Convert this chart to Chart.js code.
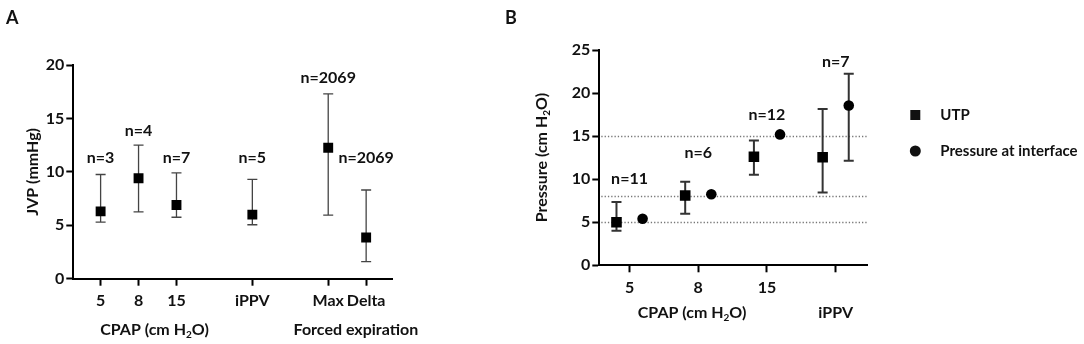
<!DOCTYPE html>
<html>
<head>
<meta charset="utf-8">
<script src="https://cdn.jsdelivr.net/npm/chart.js@4.4.1/dist/chart.umd.min.js"></script>
<style>
  html, body { margin: 0; padding: 0; background: #fff; }
  #wrap { position: relative; width: 1084px; height: 344px; }
  #chartA { position: absolute; left: 0; top: 0; }
  #chartB { position: absolute; left: 500px; top: 0; }
</style>
</head>
<body>
<div id="wrap">
  <canvas id="chartA" width="500" height="344"></canvas>
  <canvas id="chartB" width="584" height="344"></canvas>
</div>
<script>
// Panel A – JVP per condition (mean with range)
const jvpGroups = [3, 1, 2];              // CPAP levels, iPPV, forced expiration
const jvpTicks = ["5", "8", "15", "iPPV", "Max", "Delta"];
const jvpMean = [6.3, 9.4, 6.9, 6.0, 12.25, 3.85];
const jvpLow  = [5.3, 6.25, 5.75, 5.05, 5.95, 1.6];
const jvpHigh = [9.75, 12.5, 9.9, 9.3, 17.3, 8.3];
const jvpN    = ["n=3", "n=4", "n=7", "n=5", "n=2069", "n=2069"];
const jvpNY   = [11.3, 13.8, 11.3, 11.3, 18.8, 11.3];
const jvpYTicks = [0, 5, 10, 15, 20];

// Panel B – UTP vs pressure at interface
const pCats = ["5", "8", "15", ""];
const utpMean = [5.0, 8.1, 12.6, 12.55];
const utpLow  = [4.0, 6.0, 10.5, 8.45];
const utpHigh = [7.35, 9.7, 14.5, 18.15];
const ifMean  = [5.4, 8.25, 15.2, 18.55];
const ifLow   = [null, null, null, 12.15];
const ifHigh  = [null, null, null, 22.25];
const pN      = ["n=11", "n=6", "n=12", "n=7"];
const pNY     = [10.0, 13.1, 17.45, 23.6];
const refLines = [5, 8, 15];
const pYTicks = [0, 5, 10, 15, 20, 25];

const FONT = "Lato";
const FS = 16;
const TXT = "#111";

// slot positions, one empty slot between groups
const jvpX = [];
let k = 0;
jvpGroups.forEach((size, gi) => {
    for (let i = 0; i < size; i++) { jvpX.push(k + gi + 1); k++; }
});
const pX = pCats.map((c, i) => i + 1);
const DODGE = 0.19;

// draw text where "_x" makes x a subscript
function subText(ctx, text, x, y, size, align) {
    const parts = [];
    for (let i = 0; i < text.length; i++) {
        if (text[i] === "_") { parts.push({ t: text[i + 1], sub: true }); i++; }
        else if (parts.length && !parts[parts.length - 1].sub) parts[parts.length - 1].t += text[i];
        else parts.push({ t: text[i], sub: false });
    }
    const big = "bold " + size + "px " + FONT;
    const small = "bold " + Math.round(size * 0.65) + "px " + FONT;
    let w = 0;
    parts.forEach(p => { ctx.font = p.sub ? small : big; p.w = ctx.measureText(p.t).width; w += p.w; });
    let cx = align === "center" ? x - w / 2 : x;
    ctx.textAlign = "left";
    ctx.textBaseline = "middle";
    parts.forEach(p => {
        ctx.font = p.sub ? small : big;
        ctx.fillText(p.t, cx, p.sub ? y + size * 0.3 : y);
        cx += p.w;
    });
}

const errorBars = {
    id: "errorBars",
    beforeDatasetsDraw(chart, args, opts) {
        const { ctx, scales: { x, y } } = chart;
        ctx.save();
        ctx.strokeStyle = opts.color;
        ctx.lineWidth = opts.width;
        chart.data.datasets.forEach(ds => {
            ds.data.forEach((p, i) => {
                const lo = ds.errLow[i], hi = ds.errHigh[i];
                if (lo == null) return;
                const px = x.getPixelForValue(p.x);
                const y1 = y.getPixelForValue(lo), y2 = y.getPixelForValue(hi);
                ctx.beginPath();
                ctx.moveTo(px, y1); ctx.lineTo(px, y2);
                ctx.moveTo(px - opts.cap, y1); ctx.lineTo(px + opts.cap, y1);
                ctx.moveTo(px - opts.cap, y2); ctx.lineTo(px + opts.cap, y2);
                ctx.stroke();
            });
        });
        ctx.restore();
    }
};

const refLinePlugin = {
    id: "refLines",
    beforeDatasetsDraw(chart, args, opts) {
        if (!opts.values) return;
        const { ctx, chartArea, scales: { y } } = chart;
        ctx.save();
        ctx.strokeStyle = "#777";
        ctx.lineWidth = 1.3;
        ctx.setLineDash([1.3, 2]);
        opts.values.forEach(v => {
            const py = Math.round(y.getPixelForValue(v)) + 0.5;
            ctx.beginPath();
            ctx.moveTo(chartArea.left + 2, py);
            ctx.lineTo(chartArea.right, py);
            ctx.stroke();
        });
        ctx.restore();
    }
};

const annot = {
    id: "annot",
    afterDraw(chart, args, o) {
        const { ctx, chartArea, scales: { x, y } } = chart;
        ctx.save();
        ctx.fillStyle = TXT;
        // panel letter
        ctx.font = "bold 18px " + FONT;
        ctx.textAlign = "left";
        ctx.textBaseline = "middle";
        ctx.fillText(o.letter, o.letterX, 18);
        // y title
        ctx.save();
        ctx.translate(o.yTitleX, (chartArea.top + chartArea.bottom) / 2);
        ctx.rotate(-Math.PI / 2);
        subText(ctx, o.yTitle, 0, 0, FS, "center");
        ctx.restore();
        // second row of x labels
        o.groups.forEach(g => subText(ctx, g.text, x.getPixelForValue(g.x), chartArea.bottom + o.groupDy, FS, "center"));
        // n labels
        ctx.font = "bold " + FS + "px " + FONT;
        ctx.textAlign = "center";
        ctx.textBaseline = "middle";
        o.n.forEach((t, i) => ctx.fillText(t, x.getPixelForValue(o.nX[i]), y.getPixelForValue(o.nY[i])));
        // legend
        if (o.legend) {
            chart.data.datasets.forEach((ds, i) => {
                const lx = chartArea.right + 48, ly = 115 + i * 36;
                ctx.beginPath();
                if (ds.pointStyle === "rect") ctx.rect(lx - 5, ly - 5, 10, 10);
                else ctx.arc(lx, ly, 5.5, 0, Math.PI * 2);
                ctx.fill();
                ctx.font = "bold 15px " + FONT;
                ctx.textAlign = "left";
                ctx.fillText(ds.label, lx + 25, ly);
            });
        }
        ctx.restore();
    }
};

function axes(xMin, xMax, xTicks, xLabels, yMax, yTicks, yWidth, xHeight) {
    const font = { family: FONT, size: FS, weight: "bold" };
    return {
        x: {
            type: "linear", min: xMin, max: xMax,
            afterBuildTicks: s => { s.ticks = xTicks.map(v => ({ value: v })); },
            afterFit: s => { s.height = xHeight; },
            ticks: { callback: (v, i) => xLabels[i], font, color: TXT, padding: 6, maxRotation: 0, autoSkip: false },
            grid: { drawOnChartArea: false, tickLength: 7, tickWidth: 2, tickColor: "#000" },
            border: { color: "#000", width: 2 }
        },
        y: {
            min: 0, max: yMax,
            afterBuildTicks: s => { s.ticks = yTicks.map(v => ({ value: v })); },
            afterFit: s => { s.width = yWidth; },
            ticks: { font, color: TXT, padding: 2 },
            grid: { drawOnChartArea: false, tickLength: 7, tickWidth: 2, tickColor: "#000" },
            border: { color: "#000", width: 2 }
        }
    };
}

new Chart(document.getElementById("chartA"), {
    type: "scatter",
    data: {
        datasets: [{
            label: "JVP",
            data: jvpX.map((xv, i) => ({ x: xv, y: jvpMean[i] })),
            errLow: jvpLow, errHigh: jvpHigh,
            pointStyle: "rect", pointRadius: 7, borderWidth: 0, backgroundColor: "#000"
        }]
    },
    options: {
        responsive: false, animation: false, events: [],
        layout: { padding: { left: 0, top: 65, right: 107.3, bottom: 0 } },
        scales: axes(0.28, 8.7, jvpX, jvpTicks, 20, jvpYTicks, 73.3, 65.3),
        plugins: {
            legend: { display: false }, tooltip: { enabled: false },
            errorBars: { color: "#444", width: 1.3, cap: 5 },
            annot: {
                letter: "A", letterX: 6, yTitleX: 33, yTitle: "JVP (mmHg)",
                groupDy: 51, groups: [{ text: "CPAP (cm H_2O)", x: 2.42 }, { text: "Forced expiration", x: 7.73 }],
                n: jvpN, nX: jvpX, nY: jvpNY
            }
        }
    },
    plugins: [errorBars, annot]
});

new Chart(document.getElementById("chartB"), {
    type: "scatter",
    data: {
        datasets: [{
            label: "UTP",
            data: pX.map((xv, i) => ({ x: xv - DODGE, y: utpMean[i] })),
            errLow: utpLow, errHigh: utpHigh,
            pointStyle: "rect", pointRadius: 7.5, borderWidth: 0, backgroundColor: "#000"
        }, {
            label: "Pressure at interface",
            data: pX.map((xv, i) => ({ x: xv + DODGE, y: ifMean[i] })),
            errLow: ifLow, errHigh: ifHigh,
            pointStyle: "circle", pointRadius: 5.3, borderWidth: 0, backgroundColor: "#000"
        }]
    },
    options: {
        responsive: false, animation: false, events: [],
        layout: { padding: { left: 0, top: 50, right: 216.7, bottom: 0 } },
        scales: axes(0.56, 4.46, pX, pCats, 25, pYTicks, 99.3, 78.7),
        plugins: {
            legend: { display: false }, tooltip: { enabled: false },
            errorBars: { color: "#333", width: 2, cap: 5 },
            refLines: { values: refLines },
            annot: {
                letter: "B", letterX: 5, yTitleX: 42, yTitle: "Pressure (cm H_2O)",
                groupDy: 48, groups: [{ text: "CPAP (cm H_2O)", x: 1.91 }, { text: "iPPV", x: 4 }],
                n: pN, nX: pX, nY: pNY, legend: true
            }
        }
    },
    plugins: [refLinePlugin, errorBars, annot]
});
</script>
</body>
</html>
